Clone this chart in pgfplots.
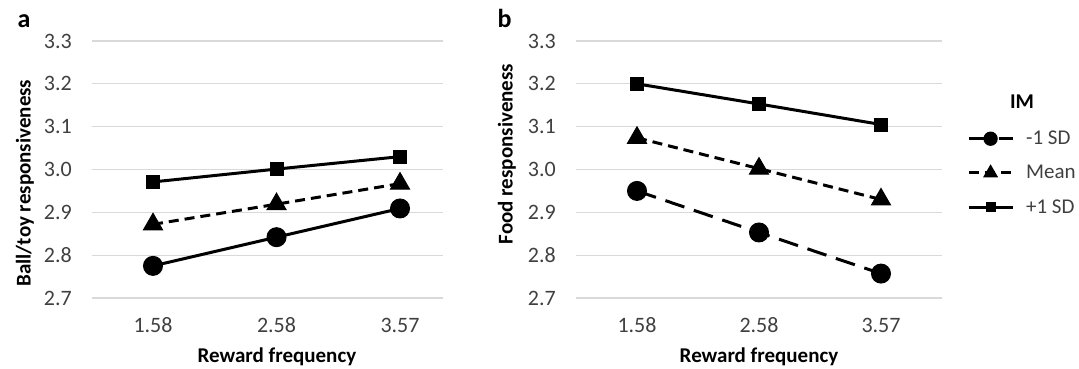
\documentclass[border=0pt]{standalone}
\usepackage{pgfplots}
\pgfplotsset{compat=1.18}
\usepackage{fontspec}
\setmainfont{Carlito}
\definecolor{gridgray}{HTML}{D9D9D9}
\definecolor{ticktxt}{HTML}{404040}
\pgfplotstableread{
x lo mid hi
0 2.775 2.872 2.971
1 2.842 2.919 3.001
2 2.909 2.967 3.030
}\dataA
\pgfplotstableread{
x lo mid hi
0 2.950 3.074 3.200
1 2.853 3.002 3.153
2 2.757 2.930 3.105
}\dataB
\begin{document}
\begin{tikzpicture}[font=\fontsize{21}{25}\selectfont]
\useasboundingbox (0,0) rectangle (1079pt,368pt);
\pgfplotsset{
 resp/.style={
  scale only axis, height=257pt, ymin=2.7, ymax=3.3,
  ytick={2.7,2.8,2.9,3.0,3.1,3.2,3.3}, yticklabels={2.7,2.8,2.9,3.0,3.1,3.2,3.3},
  xtick={0,1,2}, xticklabels={1.58,2.58,3.57},
  axis line style={draw=none}, major tick length=0pt,
  ymajorgrids, major grid style={draw=gridgray, line width=1.3pt},
  clip=false,
  tick label style={text=ticktxt, inner sep=0pt, font=\fontsize{22}{26}\selectfont},
  yticklabel style={anchor=east, xshift=-20pt},
  xticklabel style={anchor=center, yshift=-27pt},
  xlabel={\textbf{Reward frequency}},
  legend image code/.code={\draw[mark repeat=2,mark phase=2,##1,every mark/.append style={scale=0.7}] plot coordinates {(0pt,0pt) (22pt,0pt) (44pt,0pt)};},
 },
 circ/.style={black, line width=3pt, mark=*, mark size=9.5pt, mark options={solid, line width=1pt}},
 tri/.style={black, line width=3pt, mark=triangle*, mark size=11pt, mark options={solid, line width=1pt}},
 sq/.style={black, line width=3pt, mark=square*, mark size=6.5pt, mark options={solid, line width=1pt}},
 shortdash/.style={dash pattern=on 10pt off 6pt},
 longdash/.style={dash pattern=on 20pt off 10pt},
}
% Panel a
\begin{axis}[resp, at={(92pt,70pt)}, anchor=south west, width=351pt,
  xmin=-0.494, xmax=2.348,
  every axis x label/.style={at={(rel axis cs:0.527,0)}, anchor=center, yshift=-59pt},
  ylabel={\textbf{Ball/toy responsiveness}},
  every axis y label/.style={at={(rel axis cs:-0.1909,0.447)}, anchor=center, rotate=90},
]
\addplot[circ] table[x=x,y=lo] {\dataA};
\addplot[tri, shortdash] table[x=x,y=mid] {\dataA};
\addplot[sq] table[x=x,y=hi] {\dataA};
\end{axis}
% Panel b
\begin{axis}[resp, at={(576pt,70pt)}, anchor=south west, width=366pt,
  xmin=-0.5, xmax=2.5,
  every axis x label/.style={at={(rel axis cs:0.5,0)}, anchor=center, yshift=-59pt},
  ylabel={\textbf{Food responsiveness}},
  every axis y label/.style={at={(rel axis cs:-0.1885,0.560)}, anchor=center, rotate=90},
  legend style={draw=none, fill=none, at={(rel axis cs:1.068,0.65)}, anchor=north west,
    inner sep=0pt, row sep=19pt, nodes={inner sep=0pt, text=ticktxt},
    /tikz/every odd column/.append style={column sep=12pt}},
  legend cell align=left,
]
\addplot[circ, longdash] table[x=x,y=lo] {\dataB};
\addlegendentry{-1 SD}
\addplot[tri, shortdash] table[x=x,y=mid] {\dataB};
\addlegendentry{Mean}
\addplot[sq] table[x=x,y=hi] {\dataB};
\addlegendentry{+1 SD}
\node[font=\bfseries\fontsize{21}{25}\selectfont, text=black] at (rel axis cs:1.2186,0.7626) {IM};
\end{axis}
\node[anchor=base west, font=\bfseries\fontsize{26}{30}\selectfont] at (14pt,341pt) {a};
\node[anchor=base west, font=\bfseries\fontsize{26}{30}\selectfont] at (494pt,341pt) {b};
\end{tikzpicture}
\end{document}
